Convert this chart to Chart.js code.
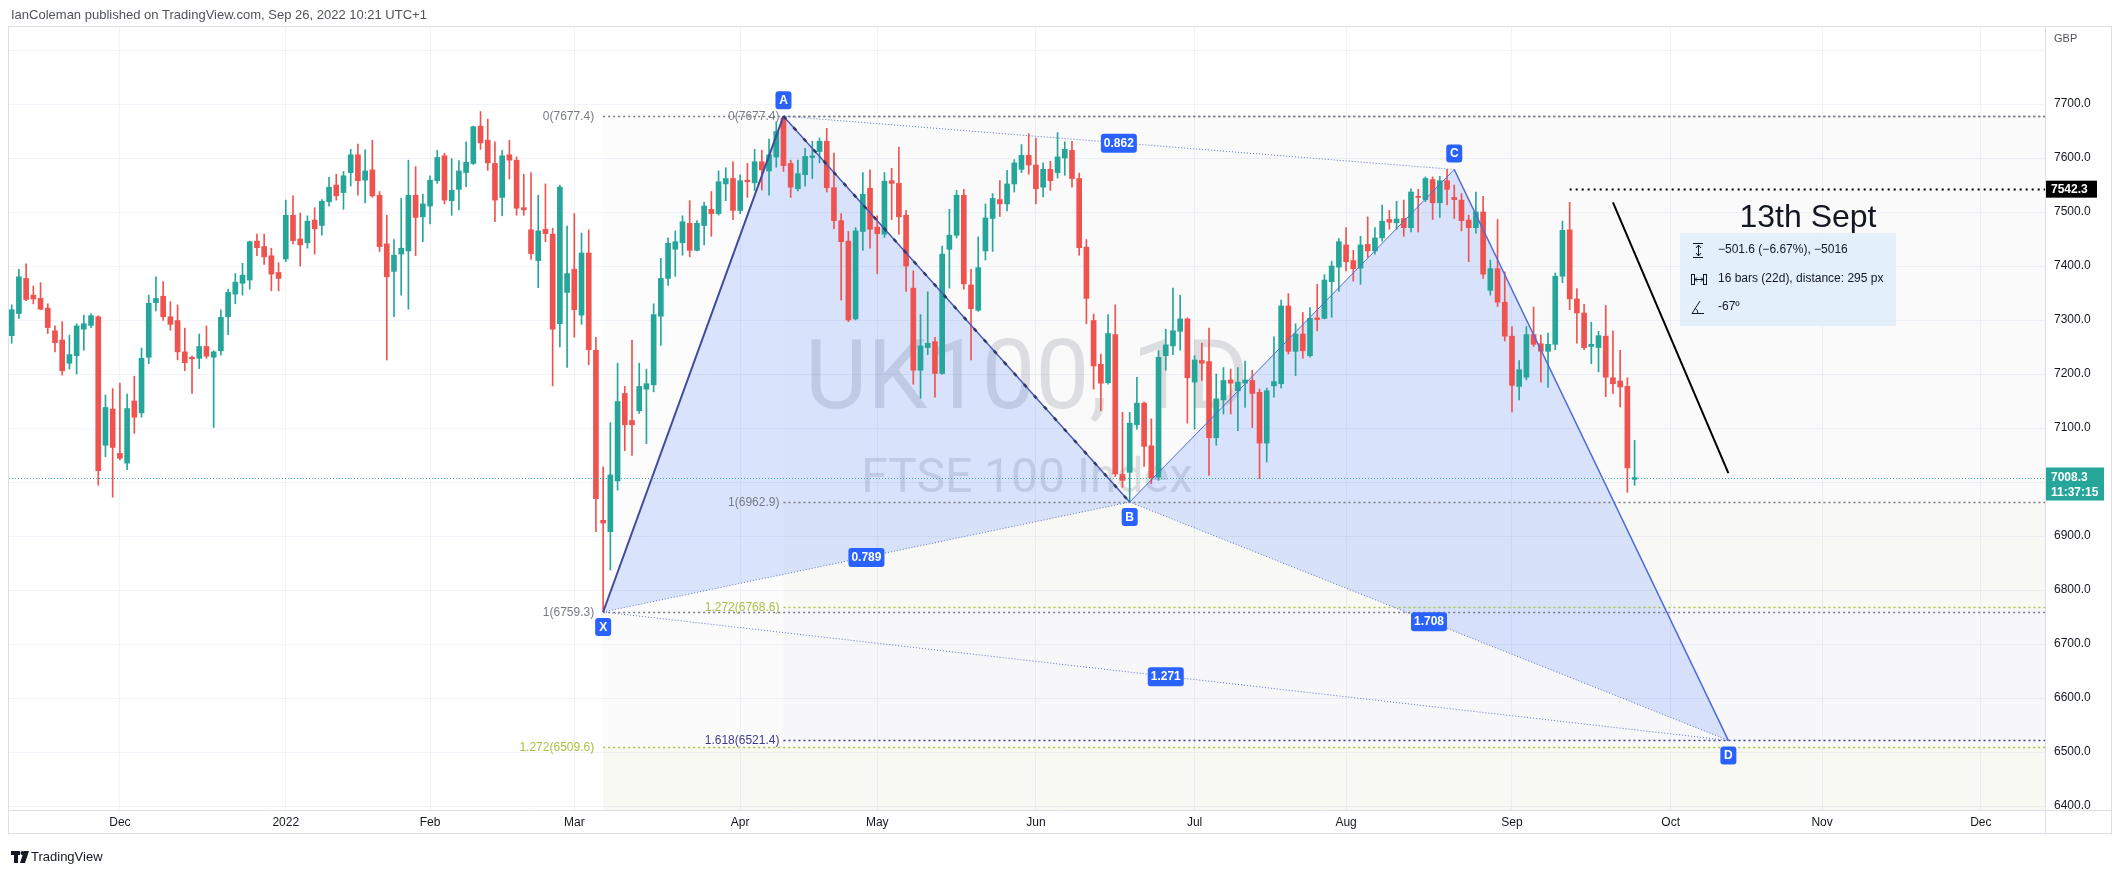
<!DOCTYPE html>
<html><head><meta charset="utf-8">
<script src="https://cdn.jsdelivr.net/npm/chart.js@4.4.1/dist/chart.umd.min.js"></script>
<style>html,body{margin:0;padding:0;background:#fff;overflow:hidden}canvas{display:block}</style>
</head><body>
<canvas id="c" width="2123" height="876" style="width:2123px;height:876px"></canvas>
<script>
// ---------- DATA ----------
const opens=[7271,7312,7377,7346,7340,7322,7280,7263,7220,7234,7283,7290,7306,7068,7135,7053,7035,7150,7128,7231,7332,7344,7306,7299,7241,7231,7229,7251,7231,7243,7306,7348,7368,7374,7446,7436,7419,7388,7413,7494,7450,7443,7485,7475,7519,7550,7536,7573,7606,7559,7578,7531,7441,7390,7422,7428,7531,7491,7511,7558,7604,7521,7542,7573,7590,7659,7633,7590,7527,7606,7596,7508,7467,7410,7468,7459,7293,7351,7394,7309,7424,7244,6929,6908,7002,7164,7114,7132,7172,7180,7307,7377,7431,7443,7479,7429,7475,7505,7497,7552,7562,7503,7559,7554,7593,7576,7602,7674,7590,7543,7569,7601,7612,7631,7545,7484,7446,7302,7464,7544,7472,7459,7558,7553,7494,7359,7207,7249,7260,7201,7431,7457,7531,7365,7318,7428,7488,7523,7515,7552,7579,7605,7587,7546,7579,7573,7600,7614,7562,7435,7299,7218,7184,7273,7014,7018,7106,7146,7067,7009,7234,7252,7279,7302,7185,7225,7223,7082,7152,7189,7169,7183,7188,7166,7072,7178,7182,7326,7242,7274,7234,7304,7303,7371,7398,7439,7410,7396,7440,7428,7452,7486,7480,7488,7471,7529,7523,7560,7517,7558,7527,7522,7485,7471,7500,7355,7395,7333,7270,7177,7194,7273,7256,7242,7255,7381,7467,7339,7313,7251,7249,7270,7193,7187,7177,7005];
const highs=[7328,7394,7404,7363,7369,7330,7289,7297,7272,7293,7309,7312,7308,7161,7173,7183,7163,7196,7248,7346,7380,7371,7334,7328,7285,7233,7274,7289,7243,7319,7357,7386,7405,7446,7459,7459,7433,7406,7522,7530,7498,7493,7508,7523,7564,7570,7575,7616,7626,7615,7633,7538,7494,7449,7525,7596,7584,7533,7567,7614,7609,7599,7595,7630,7659,7686,7672,7630,7614,7633,7602,7570,7573,7531,7552,7470,7550,7474,7497,7461,7467,7268,7028,7110,7220,7177,7263,7220,7209,7330,7414,7452,7465,7493,7521,7484,7518,7538,7576,7582,7593,7569,7590,7616,7614,7635,7667,7677.4,7596,7596,7618,7631,7637,7655,7609,7497,7464,7471,7573,7578,7493,7573,7581,7620,7503,7391,7310,7352,7268,7437,7505,7540,7542,7394,7454,7515,7534,7558,7577,7597,7625,7645,7637,7591,7594,7647,7630,7631,7572,7449,7311,7237,7310,7328,7129,7129,7194,7148,7117,7243,7283,7359,7346,7304,7234,7257,7285,7200,7212,7209,7212,7224,7207,7172,7174,7269,7337,7349,7293,7314,7323,7366,7384,7409,7451,7471,7429,7455,7491,7471,7513,7503,7520,7522,7543,7542,7565,7565,7566,7579,7550,7534,7494,7537,7529,7411,7486,7389,7288,7225,7288,7324,7272,7276,7387,7483,7518,7358,7329,7296,7279,7327,7280,7244,7193,7077];
const lows=[7257,7303,7336,7330,7319,7275,7241,7198,7209,7200,7244,7286,6994,7047,6972,7041,7023,7090,7120,7219,7317,7299,7281,7226,7206,7164,7210,7229,7101,7235,7273,7330,7346,7357,7419,7403,7354,7354,7408,7441,7400,7433,7422,7457,7511,7522,7505,7548,7531,7517,7527,7427,7226,7306,7346,7320,7419,7445,7478,7553,7515,7494,7504,7547,7588,7616,7577,7482,7493,7561,7494,7494,7412,7360,7445,7178,7250,7212,7268,7292,7217,6908,6759.3,6837,6985,7058,7049,7127,7071,7167,7253,7364,7381,7420,7417,7428,7439,7455,7494,7521,7486,7497,7527,7540,7541,7531,7583,7575,7527,7539,7548,7562,7591,7537,7469,7337,7297,7300,7429,7433,7386,7453,7486,7459,7353,7181,7155,7236,7157,7199,7359,7452,7357,7226,7316,7411,7427,7492,7502,7537,7573,7570,7515,7528,7540,7563,7568,7546,7420,7293,7172,7132,7181,7010,6990,6962.9,7098,7029,6997,7003,7207,7236,7244,7109,7098,7188,7012,7068,7126,7126,7095,7138,7101,7006,7037,7157,7174,7237,7197,7229,7231,7280,7302,7305,7353,7391,7372,7366,7416,7422,7446,7468,7468,7455,7463,7463,7519,7486,7490,7513,7488,7465,7408,7461,7377,7346,7325,7261,7130,7152,7189,7251,7185,7175,7245,7369,7319,7257,7245,7219,7204,7158,7164,7139,6981,6994];
const closes=[7319,7380,7338,7339,7320,7286,7258,7206,7236,7289,7293,7308,7021,7138,7064,7044,7136,7120,7229,7331,7340,7306,7292,7241,7221,7228,7251,7233,7241,7305,7351,7370,7383,7445,7434,7417,7385,7377,7494,7447,7439,7483,7469,7520,7546,7530,7567,7606,7558,7576,7530,7436,7380,7420,7433,7531,7490,7515,7559,7601,7522,7540,7576,7592,7658,7628,7591,7522,7604,7596,7507,7504,7423,7465,7460,7283,7546,7386,7319,7424,7245,6969,6924,7013,7149,7106,7106,7177,7182,7310,7377,7442,7445,7482,7429,7479,7511,7497,7556,7562,7503,7558,7556,7593,7578,7606,7649,7586,7546,7571,7603,7604,7631,7545,7484,7445,7300,7465,7533,7468,7460,7557,7553,7491,7400,7207,7252,7257,7201,7422,7457,7531,7367,7321,7397,7489,7525,7515,7552,7591,7605,7587,7543,7579,7558,7602,7616,7562,7434,7340,7215,7183,7275,7015,7003,7109,7146,7066,7008,7231,7254,7280,7302,7193,7226,7220,7082,7154,7188,7183,7185,7189,7164,7072,7169,7186,7326,7242,7274,7243,7303,7301,7374,7400,7445,7408,7395,7439,7428,7452,7483,7481,7487,7471,7537,7527,7562,7517,7558,7542,7523,7484,7471,7500,7385,7395,7333,7270,7179,7208,7273,7255,7242,7255,7381,7466,7339,7313,7249,7255,7271,7194,7182,7176,7026,7008.3];

const monthTickIdx=[16,39,59,79,102,121,143,165,186,209,231,252,274];
const monthTickLabels=['Dec','2022','Feb','Mar','Apr','May','Jun','Jul','Aug','Sep','Oct','Nov','Dec'];
const priceTicks=[6400,6500,6600,6700,6800,6900,7000,7100,7200,7300,7400,7500,7600,7700,7800];

// XABCD harmonic pattern points
const patternNames=['X','A','B','C','D'];
const patternIdx=[83,108,156,201,239];
const patternPrice=[6759.3,7677.4,6962.9,7578.8,6521.4];
const ratioPairs=[[0,2],[1,3],[2,4],[0,4]];
const ratioTexts=['0.789','0.862','1.708','1.271'];

// Fibonacci tools
const fibAXLevels=['0','1','1.272'];
const fibAXPrices=[7677.4,6759.3,6509.6];
const fibAXStart=83;
const fibABLevels=['0','1','1.272','1.618'];
const fibABPrices=[7677.4,6962.9,6768.6,6521.4];
const fibABStart=108;

const lastPrice=7008.3;
const hLinePrice=7542.3, hLineStart=217;
const trendIdx=[223,239], trendPrice=[7518,7016.4];
const noteText='13th Sept';
const measureRows=['\u2212501.6 (\u22126.67%), \u22125016','16 bars (22d), distance: 295 px','-67\u00ba'];

// ---------- CHART ----------
const FONT='"Liberation Sans", Arial, sans-serif';
const UP='#26a69a', DN='#ef5350';
const cols=closes.map((c,i)=>c>=opens[i]?UP:DN);
const wickData=closes.map((c,i)=>({x:i+1,y:[lows[i],highs[i]]}));
const bodyData=closes.map((c,i)=>({x:i+1,y:[Math.min(opens[i],c),Math.max(opens[i],c)]}));

function dotted(ctx,x1,y1,x2,y2,color,w,dash){ctx.save();ctx.strokeStyle=color;ctx.lineWidth=w;ctx.setLineDash(dash||[]);ctx.beginPath();ctx.moveTo(x1,y1);ctx.lineTo(x2,y2);ctx.stroke();ctx.restore();}
function rrect(ctx,x,y,w,h,r,fill){ctx.beginPath();ctx.moveTo(x+r,y);ctx.lineTo(x+w-r,y);ctx.quadraticCurveTo(x+w,y,x+w,y+r);ctx.lineTo(x+w,y+h-r);ctx.quadraticCurveTo(x+w,y+h,x+w-r,y+h);ctx.lineTo(x+r,y+h);ctx.quadraticCurveTo(x,y+h,x,y+h-r);ctx.lineTo(x,y+r);ctx.quadraticCurveTo(x,y,x+r,y);ctx.closePath();ctx.fillStyle=fill;ctx.fill();}

const annot={
 id:'annot',
 beforeDatasetsDraw(chart){
  const {ctx,chartArea:a,scales:{x,y}}=chart;
  ctx.save();ctx.beginPath();ctx.rect(a.left,a.top,a.right-a.left,a.bottom-a.top);ctx.clip();
  // fib backgrounds
  const xa=x.getPixelForValue(fibAXStart), xb=x.getPixelForValue(fibABStart);
  const bandAX=['rgba(120,123,134,0.025)','rgba(120,123,134,0.03)','rgba(150,170,70,0.07)'];
  let ys=fibAXPrices.map(p=>y.getPixelForValue(p)); ys.push(a.bottom);
  for(let i=0;i<ys.length-1;i++){ctx.fillStyle=bandAX[i];ctx.fillRect(xa,ys[i],a.right-xa,ys[i+1]-ys[i]);}
  const bandAB=['rgba(120,123,134,0.015)','rgba(150,170,70,0.035)','rgba(70,70,150,0.025)'];
  ys=fibABPrices.map(p=>y.getPixelForValue(p));
  for(let i=0;i<ys.length-1;i++){ctx.fillStyle=bandAB[i];ctx.fillRect(xb,ys[i],a.right-xb,ys[i+1]-ys[i]);}
  // watermark
  const cx=(a.left+a.right)/2;
  ctx.fillStyle='rgba(140,144,156,0.27)';ctx.textAlign='center';ctx.textBaseline='alphabetic';
  ctx.font='96px Roboto, sans-serif';ctx.fillText('UK100, 1D',cx,408);
  ctx.font='48px Roboto, sans-serif';ctx.fillText('FTSE 100 Index',cx,492);
  // pattern fills
  const P=patternIdx.map((v,i)=>[x.getPixelForValue(v),y.getPixelForValue(patternPrice[i])]);
  ctx.fillStyle='rgba(41,98,255,0.16)';
  [[0,1,2],[2,3,4]].forEach(t=>{ctx.beginPath();ctx.moveTo(...P[t[0]]);ctx.lineTo(...P[t[1]]);ctx.lineTo(...P[t[2]]);ctx.closePath();ctx.fill();});
  ctx.restore();
 },
 afterDatasetsDraw(chart){
  const {ctx,chartArea:a,scales:{x,y}}=chart;
  ctx.save();ctx.beginPath();ctx.rect(a.left,a.top,a.right-a.left,a.bottom-a.top);ctx.clip();
  // last price line
  const yl=y.getPixelForValue(lastPrice);
  dotted(ctx,a.left,Math.round(yl)+0.5,a.right,Math.round(yl)+0.5,'rgba(38,166,154,0.9)',1,[1,2]);
  // fib lines
  const colAX=['#787b86','#787b86','#a9c244'];
  const colAB=['#787b86','#787b86','#a9c244','#3d3d8f'];
  ctx.font='12px '+FONT;ctx.textAlign='right';ctx.textBaseline='middle';
  const xa=x.getPixelForValue(fibAXStart), xb=x.getPixelForValue(fibABStart);
  fibAXPrices.forEach((p,i)=>{const yy=Math.round(y.getPixelForValue(p))+0.5;dotted(ctx,xa,yy,a.right,yy,colAX[i],1.5,[2,3]);ctx.fillStyle=colAX[i];ctx.fillText(fibAXLevels[i]+'('+p.toFixed(1)+')',xa-9,yy);});
  fibABPrices.forEach((p,i)=>{const yy=Math.round(y.getPixelForValue(p))+0.5;dotted(ctx,xb,yy,a.right,yy,colAB[i],1.5,[2,3]);ctx.fillStyle=colAB[i];ctx.fillText(fibABLevels[i]+'('+p.toFixed(1)+')',xb-4,yy);});
  // pattern lines
  const P=patternIdx.map((v,i)=>[x.getPixelForValue(v),y.getPixelForValue(patternPrice[i])]);
  ratioPairs.forEach(pr=>dotted(ctx,P[pr[0]][0],P[pr[0]][1],P[pr[1]][0],P[pr[1]][1],'#5b72c8',1,[1,2]));
  dotted(ctx,...P[0],...P[1],'#3f4c9b',2);
  dotted(ctx,...P[1],...P[2],'#4a5ab0',1.5);
  dotted(ctx,...P[1],...P[2],'#2f3766',2.5,[4,11]);
  dotted(ctx,...P[2],...P[3],'#4f6ad6',1);
  dotted(ctx,...P[3],...P[4],'#4f6ad6',1.5);
  // ratio labels
  ctx.font='bold 12px '+FONT;ctx.textAlign='center';ctx.textBaseline='middle';
  ratioPairs.forEach((pr,i)=>{const mx=(P[pr[0]][0]+P[pr[1]][0])/2,my=(P[pr[0]][1]+P[pr[1]][1])/2;rrect(ctx,mx-18,my-9,36,19,3,'#2962ff');ctx.fillStyle='#fff';ctx.fillText(ratioTexts[i],mx,my+0.5);});
  // point labels
  const below=[true,false,true,false,true];
  patternNames.forEach((n,i)=>{const px=P[i][0],py=P[i][1]+(below[i]?15:-16);rrect(ctx,px-8,py-9,16,18,3,'#2962ff');ctx.fillStyle='#fff';ctx.fillText(n,px,py+0.5);});
  // horizontal ray 7542.3
  const yh=Math.round(y.getPixelForValue(hLinePrice))+0.5;
  dotted(ctx,x.getPixelForValue(hLineStart),yh,a.right,yh,'#000',2,[2,4]);
  // trend line
  dotted(ctx,x.getPixelForValue(trendIdx[0]),y.getPixelForValue(trendPrice[0]),x.getPixelForValue(trendIdx[1]),y.getPixelForValue(trendPrice[1]),'#000',2);
  // note text
  ctx.fillStyle='#131722';ctx.font='32px '+FONT;ctx.textAlign='center';ctx.textBaseline='alphabetic';
  ctx.fillText(noteText,1808,227);
  // measure box
  ctx.fillStyle='#e3effb';ctx.fillRect(1680,233,216,93);
  ctx.fillStyle='#131722';ctx.font='12px '+FONT;ctx.textAlign='left';ctx.textBaseline='middle';
  const ry=[250,279,307];
  measureRows.forEach((t,i)=>ctx.fillText(t,1718,ry[i]));
  ctx.strokeStyle='#131722';ctx.lineWidth=1;
  ctx.beginPath();ctx.moveTo(1693,243.5);ctx.lineTo(1703,243.5);ctx.moveTo(1693,257.5);ctx.lineTo(1703,257.5);ctx.moveTo(1698.5,245);ctx.lineTo(1698.5,256);ctx.moveTo(1696,248);ctx.lineTo(1698.5,245);ctx.lineTo(1701,248);ctx.moveTo(1696,253);ctx.lineTo(1698.5,256);ctx.lineTo(1701,253);ctx.stroke();
  ctx.strokeRect(1691.5,274.5,3,10);ctx.strokeRect(1703.5,274.5,3,10);
  ctx.beginPath();ctx.moveTo(1695,279.5);ctx.lineTo(1703,279.5);ctx.moveTo(1697,277.5);ctx.lineTo(1695,279.5);ctx.lineTo(1697,281.5);ctx.moveTo(1701,277.5);ctx.lineTo(1703,279.5);ctx.lineTo(1701,281.5);ctx.stroke();
  ctx.beginPath();ctx.moveTo(1692,313.5);ctx.lineTo(1704,313.5);ctx.moveTo(1692,313.5);ctx.lineTo(1700,301);ctx.stroke();
  ctx.beginPath();ctx.arc(1692,313.5,6,-1.0,0);ctx.stroke();
  ctx.restore();
 },
 afterDraw(chart){
  const {ctx,chartArea:a,scales:{y}}=chart;
  ctx.save();
  // frame
  ctx.strokeStyle='#dcdfe6';ctx.lineWidth=1;
  ctx.strokeRect(8.5,a.top-0.5,2103,834-a.top);
  dotted(ctx,a.right+0.5,a.top,a.right+0.5,834,'#dcdfe6',1);
  dotted(ctx,8.5,a.bottom+0.5,2112,a.bottom+0.5,'#dcdfe6',1);
  // price axis labels
  const yh=y.getPixelForValue(hLinePrice);
  ctx.fillStyle='#000';ctx.fillRect(a.right+1,yh-8.5,51,17);
  ctx.fillStyle='#fff';ctx.font='bold 12px '+FONT;ctx.textAlign='left';ctx.textBaseline='middle';ctx.fillText(hLinePrice.toFixed(1),a.right+6,yh+0.5);
  const yl=y.getPixelForValue(lastPrice);
  ctx.fillStyle='#26a69a';ctx.fillRect(a.right+1,yl-10,58,33);
  ctx.fillStyle='#fff';ctx.fillText(lastPrice.toFixed(1),a.right+6,yl+0.5);ctx.fillText('11:37:15',a.right+6,yl+15);
  ctx.fillStyle='#fff';ctx.fillRect(a.right+2,a.top+2,60,20);
  ctx.fillStyle='#50535e';ctx.font='11px '+FONT;ctx.fillText('GBP',a.right+9,39);
  // header
  ctx.fillStyle='#50535e';ctx.font='13px '+FONT;ctx.textBaseline='middle';ctx.fillText('IanColeman published on TradingView.com, Sep 26, 2022 10:21 UTC+1',11,15);
  // logo
  ctx.fillStyle='#131722';
  ctx.fillRect(11,851,9,4);ctx.fillRect(14,851,4,12);
  ctx.beginPath();ctx.arc(22.5,853,2,0,Math.PI*2);ctx.fill();
  ctx.beginPath();ctx.moveTo(24,851);ctx.lineTo(29,851);ctx.lineTo(25,863);ctx.lineTo(20,863);ctx.closePath();ctx.fill();
  ctx.font='13px '+FONT;ctx.textBaseline='middle';ctx.fillText('TradingView',31,857);
  ctx.restore();
 }
};

new Chart(document.getElementById('c'),{
 type:'bar',
 data:{datasets:[
  {data:wickData,backgroundColor:cols,barThickness:1,grouped:false,order:2},
  {data:bodyData,backgroundColor:cols,barThickness:5,minBarLength:1,grouped:false,order:1}
 ]},
 options:{
  responsive:false,animation:false,devicePixelRatio:1,
  layout:{padding:{left:9,top:27,right:11,bottom:42}},
  plugins:{legend:{display:false},tooltip:{enabled:false}},
  scales:{
   x:{type:'linear',min:0.626,max:282.9,offset:false,
      afterBuildTicks(s){s.ticks=monthTickIdx.map(v=>({value:v}));},
      ticks:{autoSkip:false,maxRotation:0,padding:5,color:'#131722',font:{family:FONT,size:12},
        callback:(v)=>{const k=monthTickIdx.indexOf(v);return k>=0?monthTickLabels[k]:'';}},
      grid:{color:'#f0f3fa',drawTicks:false,offset:false},border:{display:false},
      afterFit(s){s.height=24;}},
   y:{type:'linear',position:'right',min:6392.6,max:7842.6,
      afterBuildTicks(s){s.ticks=priceTicks.map(v=>({value:v}));},
      ticks:{padding:9,color:'#131722',font:{family:FONT,size:12},callback:v=>v>7750?'':v.toFixed(1)},
      grid:{color:'#f0f3fa',drawTicks:false},border:{display:false},
      afterFit(s){s.width=67;}}
  }
 },
 plugins:[annot]
});
</script>
</body></html>
